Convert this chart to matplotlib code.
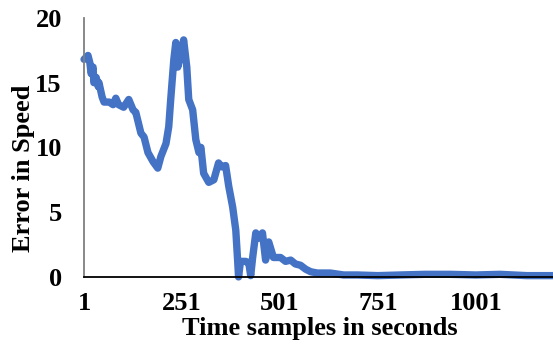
import matplotlib.pyplot as plt

# keypoints (sample index, error)
samples = [1, 11, 16, 19, 24, 26, 32, 37, 39, 47, 52, 65, 75, 82, 89, 102,
           115, 126, 133, 146, 154, 164, 177, 189, 197, 210, 217, 222, 230,
           235, 240, 248, 255, 263, 268, 278, 286, 294, 299, 306, 319, 332,
           344, 352, 362, 370, 380, 388, 393, 395, 400, 413, 421, 426, 431,
           439, 447, 456, 464, 472, 484, 502, 515, 528, 540, 553, 566, 579,
           596, 629, 663, 698, 750, 808, 870, 935, 1000, 1062, 1130, 1197]
errors = [16.8, 17.1, 16.5, 15.7, 16.2, 15.0, 15.4, 14.7, 15.0, 13.9, 13.5,
          13.5, 13.3, 13.8, 13.3, 13.1, 13.7, 12.9, 12.7, 11.1, 10.8, 9.6,
          8.9, 8.4, 9.3, 10.3, 11.6, 13.7, 16.8, 18.1, 16.2, 17.3, 18.3,
          16.2, 13.7, 12.9, 10.6, 9.6, 10.0, 8.0, 7.3, 7.5, 8.8, 8.5, 8.6,
          7.0, 5.4, 3.6, 1.1, 0.0, 1.2, 1.2, 1.1, 0.1, 1.5, 3.4, 3.0, 3.4,
          1.3, 2.7, 1.5, 1.5, 1.2, 1.3, 1.0, 0.9, 0.6, 0.4, 0.3, 0.3, 0.15,
          0.15, 0.1, 0.15, 0.2, 0.2, 0.15, 0.2, 0.1, 0.1]

xticks = [1, 251, 501, 751, 1001]
yticks = [0, 5, 10, 15, 20]

plt.rcParams['font.family'] = 'Liberation Serif'
plt.rcParams['font.weight'] = 'bold'

fig = plt.figure(figsize=(5.53, 3.44), dpi=100)
ax = fig.add_axes([0.152, 0.195, 0.848, 0.753])

ax.plot(samples, errors, color='#4472C4', linewidth=5.3, clip_on=False,
        solid_joinstyle='round', solid_capstyle='round')

ax.set_xlim(1, 1197)
ax.set_ylim(0, 20)
ax.set_xticks(xticks)
ax.set_yticks(yticks)
ax.tick_params(length=0, labelsize=19)
ax.tick_params(axis='y', pad=16)
ax.tick_params(axis='x', pad=10.5)

ax.spines['top'].set_visible(False)
ax.spines['right'].set_visible(False)
ax.spines['left'].set_color('#7f7f7f')
ax.spines['left'].set_linewidth(1.3)
ax.spines['bottom'].set_color('black')
ax.spines['bottom'].set_linewidth(1.3)

fig.text(24 / 553, 1 - 168 / 344, 'Error in Speed', rotation=90,
         ha='center', va='center', fontsize=19, fontweight='bold')
fig.text(320 / 553, 1 - 335 / 344, 'Time samples in seconds',
         ha='center', va='baseline', fontsize=19, fontweight='bold')

fig.savefig('out.png', dpi=100)
